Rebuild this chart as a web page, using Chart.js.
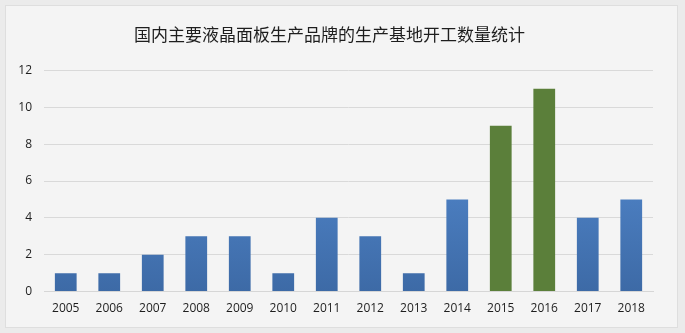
<!DOCTYPE html>
<html>
<head>
<meta charset="utf-8">
<script src="https://cdn.jsdelivr.net/npm/chart.js@4"></script>
<style>
  html, body { margin: 0; padding: 0; background: #ebebeb; }
  #box {
    position: absolute; left: 5px; top: 5px; width: 671px; height: 321px;
    background: #f4f4f4; border: 1px solid #dedede;
  }
  #chart { display: block; }
</style>
</head>
<body>
<div id="box"><canvas id="chart" width="671" height="321"></canvas></div>
<script>
const years = ['2005', '2006', '2007', '2008', '2009', '2010', '2011', '2012', '2013', '2014', '2015', '2016', '2017', '2018'];
const counts = [1, 1, 2, 3, 3, 1, 4, 3, 1, 5, 9, 11, 4, 5];
const highlighted = ['2015', '2016'];
const titleText = '国内主要液晶面板生产品牌的生产基地开工数量统计';

const tickFont = { family: '"Open Sans", "Liberation Sans", sans-serif', size: 12 };

// blue bars fade darker towards the baseline, highlighted years are flat green
function barColor(ctx) {
  const label = years[ctx.dataIndex];
  if (highlighted.includes(label)) return '#5b7f3a';
  const chart = ctx.chart;
  const area = chart.chartArea;
  if (!area) return '#4f86cc';
  const el = ctx.element;
  const top = el && el.y != null ? el.y : area.top;
  const bottom = area.bottom;
  if (!(bottom > top)) return '#4f86cc';
  const g = chart.ctx.createLinearGradient(0, top, 0, bottom);
  g.addColorStop(0, '#5c96e0');
  g.addColorStop(1, '#3d6aa6');
  return g;
}

new Chart(document.getElementById('chart'), {
  type: 'bar',
  data: {
    labels: years,
    datasets: [{
      data: counts,
      backgroundColor: barColor,
      borderWidth: 0,
      barPercentage: 0.5,
      categoryPercentage: 1
    }]
  },
  options: {
    responsive: false,
    animation: false,
    layout: { padding: { left: 0, right: 24, top: 8, bottom: 9 } },
    plugins: {
      legend: { display: false },
      tooltip: { enabled: false },
      title: {
        display: true,
        text: titleText,
        color: '#1e1e1e',
        font: { family: '"Noto Sans CJK SC", sans-serif', size: 17, weight: 'normal' },
        padding: { top: 10, bottom: 26 }
      }
    },
    scales: {
      x: {
        grid: { display: false },
        border: { color: '#d6d6d6' },
        ticks: { color: '#1e1e1e', font: tickFont, padding: 2 }
      },
      y: {
        min: 0,
        max: 12,
        afterFit: s => { s.width = 38; },
        grid: { color: '#d9d9d9', drawTicks: false },
        border: { display: false },
        ticks: { stepSize: 2, color: '#1e1e1e', font: tickFont, padding: 12 }
      }
    }
  }
});
</script>
</body>
</html>
